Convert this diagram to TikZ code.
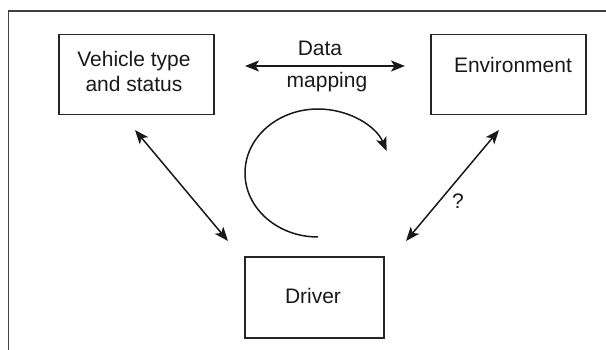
\documentclass[tikz,border=0pt]{standalone}
\usepackage{fontspec}
\setmainfont{Liberation Sans}
\usetikzlibrary{arrows.meta}
\begin{document}
\begin{tikzpicture}[x=1pt,y=-1pt,
  box/.style={draw=black!85,line width=1.4pt,minimum width=#1,minimum height=80pt,inner sep=0pt},
  lbl/.style={anchor=base,inner sep=0pt,font=\fontsize{21}{25}\selectfont,text=black!90},
  tip/.style={Stealth[length=14pt,width=11pt,inset=3.5pt]},
  conn/.style={line width=1.5pt,draw=black!90,{Stealth[length=14pt,width=11pt,inset=3.5pt]}-{Stealth[length=14pt,width=11pt,inset=3.5pt]}},
  loop/.style={line width=1.5pt,draw=black!90,-{Stealth[length=14pt,width=11pt,inset=3.5pt]}}]
\useasboundingbox (0,0) rectangle (606,350);
% outer frame (cropped)
\draw[line width=1.2pt,black!75] (8.7,350) -- (8.7,11) -- (606,11);
% boxes
\node[box=155pt] (veh) at (136.5,74.3) {};
\node[box=155pt] (env) at (508.5,74.3) {};
\node[box=139pt,minimum height=81pt] (drv) at (314.5,297.5) {};
% texts
\node[lbl] (vt1) at (134,67) {Vehicle type};
\node[lbl] (vt2) at (134,92) {and status};
\node[lbl] (envt) at (513,72.5) {Environment};
\node[lbl] (drvt) at (313,303) {Driver};
\node[lbl] (data) at (320,56) {Data};
\node[lbl] (map) at (327,88) {mapping};
\node[lbl] (q) at (458,209) {?};
% connector end points
\coordinate (dmL) at (245,66);
\coordinate (dmR) at (405,66);
\coordinate (vA) at (135,130);
\coordinate (vB) at (228,241);
\coordinate (eA) at (499,130);
\coordinate (eB) at (406,241);
\draw[conn] (dmL) -- (dmR);
\draw[conn] (vA) -- (vB);
\draw[conn] (eA) -- (eB);
% circular arrow
\coordinate (lc) at (318,173);
\draw[loop] ([shift={(0,64)}]lc) arc[start angle=90,end angle=340,x radius=73,y radius=64];
\end{tikzpicture}
\end{document}
